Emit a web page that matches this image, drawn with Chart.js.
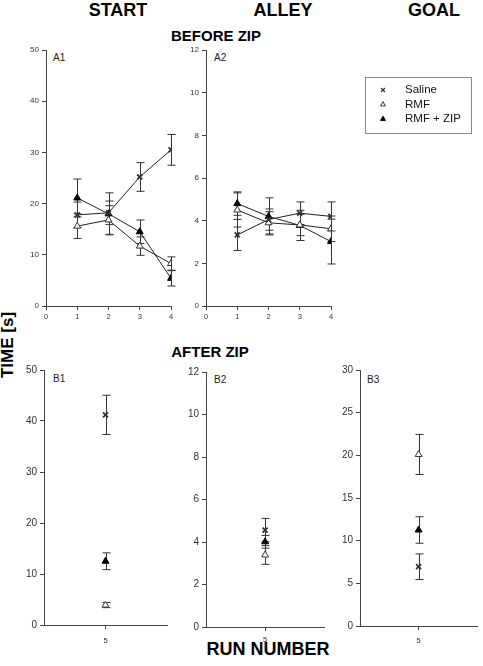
<!DOCTYPE html>
<html>
<head>
<meta charset="utf-8">
<script src="https://cdn.jsdelivr.net/npm/chart.js@4.4.1/dist/chart.umd.min.js"></script>
<style>
body { margin: 0; width: 483px; height: 666px; background: #fff; position: relative; overflow: hidden;
       font-family: "Liberation Sans", Arial, sans-serif; }
.t { position: absolute; font-weight: bold; color: #000; white-space: nowrap; transform: translate(-50%, -50%); }
.lab { position: absolute; font-size: 10px; color: #222; transform: translateY(-50%); }
canvas { position: absolute; }
</style>
</head>
<body>
<div class="t" style="left:118px;top:10px;font-size:18px">START</div>
<div class="t" style="left:283px;top:10px;font-size:18px">ALLEY</div>
<div class="t" style="left:434px;top:10px;font-size:18px">GOAL</div>
<div class="t" style="left:216px;top:35px;font-size:15px">BEFORE ZIP</div>
<div class="t" style="left:210px;top:351px;font-size:15px">AFTER ZIP</div>
<div class="t" style="left:8px;top:345px;font-size:17px;transform:translate(-50%,-50%) rotate(-90deg)">TIME [s]</div>
<div class="t" style="left:268px;top:649px;font-size:18px">RUN NUMBER</div>

<div class="lab" style="left:53px;top:57px">A1</div>
<div class="lab" style="left:214px;top:57px">A2</div>
<div class="lab" style="left:53px;top:378px">B1</div>
<div class="lab" style="left:214px;top:379px">B2</div>
<div class="lab" style="left:367px;top:379px">B3</div>

<canvas id="a1" width="180" height="290" style="left:0;top:40px"></canvas>
<canvas id="a2" width="323" height="290" style="left:160px;top:40px"></canvas>
<canvas id="b1" width="180" height="290" style="left:0;top:360px"></canvas>
<canvas id="b2" width="170" height="290" style="left:160px;top:360px"></canvas>
<canvas id="b3" width="169" height="290" style="left:314px;top:360px"></canvas>

<script>
const groups = ['Saline', 'RMF', 'RMF + ZIP'];
const runsBefore = [1, 2, 3, 4];
const runsAfter = [5];

// before ZIP, start box
const startSaline = [17.8, 18.2, 25.2, 30.5];
const startSalineErr = [2.5, 2.3, 2.8, 3.0];
const startRmf = [15.6, 16.8, 11.7, 8.3];
const startRmfErr = [2.4, 2.8, 1.8, 1.3];
const startZip = [21.1, 18.0, 14.5, 5.4];
const startZipErr = [3.7, 4.1, 2.3, 1.5];

// before ZIP, alley
const alleySaline = [3.33, 4.05, 4.35, 4.2];
const alleySalineErr = [0.73, 0.5, 0.53, 0.68];
const alleyRmf = [4.5, 3.9, 3.8, 3.62];
const alleyRmfErr = [0.8, 0.52, 0.5, 0.6];
const alleyZip = [4.8, 4.2, 3.78, 3.02];
const alleyZipErr = [0.55, 0.87, 0.71, 1.05];

// after ZIP (run 5): start, alley, goal
const afterSaline = [41.2, 4.56, 6.95];
const afterSalineErr = [3.85, 0.55, 1.5];
const afterRmf = [3.9, 3.39, 20.1];
const afterRmfErr = [0.5, 0.44, 2.35];
const afterZip = [12.5, 4.01, 11.25];
const afterZipErr = [1.65, 0.3, 1.55];

const axisColor = '#444';

const errorBars = {
    id: 'errorBars',
    beforeDatasetsDraw(chart) {
        const ctx = chart.ctx;
        const xs = chart.scales.x, ys = chart.scales.y;
        ctx.save();
        ctx.strokeStyle = '#333';
        ctx.lineWidth = 1;
        chart.data.datasets.forEach((ds) => {
            ds.data.forEach((p, i) => {
                const e = ds.errors[i];
                const x = Math.round(xs.getPixelForValue(p.x)) + 0.5;
                const top = ys.getPixelForValue(p.y + e);
                const bot = ys.getPixelForValue(p.y - e);
                ctx.beginPath();
                ctx.moveTo(x, top); ctx.lineTo(x, bot);
                ctx.moveTo(x - 4, top); ctx.lineTo(x + 4, top);
                ctx.moveTo(x - 4, bot); ctx.lineTo(x + 4, bot);
                ctx.stroke();
            });
        });
        ctx.restore();
    }
};

const styles = [
    { pointStyle: 'crossRot', pointRadius: 3.5, pointBorderWidth: 1.8, pointBorderColor: '#333', pointBackgroundColor: '#333' },
    { pointStyle: 'triangle', pointRadius: 4, pointBorderWidth: 1, pointBorderColor: '#333', pointBackgroundColor: '#fff' },
    { pointStyle: 'triangle', pointRadius: 4, pointBorderWidth: 1, pointBorderColor: '#000', pointBackgroundColor: '#000' }
];

const legendBox = {
    id: 'legendBox',
    afterDraw(chart) {
        const ctx = chart.ctx;
        ctx.save();
        ctx.strokeStyle = '#888';
        ctx.lineWidth = 1;
        ctx.strokeRect(205.5, 37.5, 106, 56);
        const rows = [50, 64.5, 79];
        ctx.font = '11.5px "Liberation Sans", Arial, sans-serif';
        ctx.textBaseline = 'middle';
        groups.forEach((g, i) => {
            const s = styles[i];
            ctx.fillStyle = s.pointBackgroundColor;
            ctx.strokeStyle = s.pointBorderColor;
            ctx.lineWidth = i === 0 ? 1.3 : 1;
            Chart.helpers.drawPoint(ctx, { pointStyle: s.pointStyle, radius: 2.8, rotation: 0, borderWidth: ctx.lineWidth }, 223, rows[i]);
            ctx.fillStyle = '#111';
            ctx.fillText(g, 245, rows[i]);
        });
        ctx.restore();
    }
};

function makeSet(i, xs, ys, errs, line) {
    return Object.assign({
        label: groups[i],
        data: xs.map((x, k) => ({ x: x, y: ys[k] })),
        errors: errs,
        showLine: line,
        borderColor: '#222',
        borderWidth: 1,
        fill: false
    }, styles[i]);
}

function panel(id, area, xMin, xMax, xTicks, yMax, yStep, sets, yFont, xFont, xPad, extra) {
    new Chart(document.getElementById(id), {
        type: 'scatter',
        data: { datasets: sets },
        options: {
            responsive: false,
            animation: false,
            layout: { padding: { left: 0, top: area.top, right: area.right, bottom: 0 } },
            plugins: { legend: { display: false }, tooltip: { enabled: false } },
            scales: {
                x: {
                    type: 'linear', min: xMin, max: xMax,
                    afterBuildTicks: (s) => { s.ticks = xTicks.map((v) => ({ value: v })); },
                    afterFit: (s) => { s.height = area.bottom; },
                    grid: { drawOnChartArea: false, drawTicks: true, tickLength: 4, color: axisColor },
                    border: { color: axisColor },
                    ticks: { autoSkip: false, maxRotation: 0, padding: xPad, color: '#333', font: { size: xFont, family: '"Liberation Sans", Arial' } }
                },
                y: {
                    min: 0, max: yMax,
                    afterFit: (s) => { s.width = area.left; },
                    grid: { drawOnChartArea: false, drawTicks: true, tickLength: 4, color: axisColor },
                    border: { color: axisColor },
                    ticks: { stepSize: yStep, padding: 3, color: '#333', font: { size: yFont, family: '"Liberation Sans", Arial' } }
                }
            }
        },
        plugins: [errorBars].concat(extra || [])
    });
}

panel('a1', { left: 46, top: 10, right: 9, bottom: 24 }, 0, 4, [0, 1, 2, 3, 4], 50, 10, [
    makeSet(0, runsBefore, startSaline, startSalineErr, true),
    makeSet(1, runsBefore, startRmf, startRmfErr, true),
    makeSet(2, runsBefore, startZip, startZipErr, true)
], 8, 7.5, 2);

panel('a2', { left: 46, top: 10, right: 152, bottom: 24 }, 0, 4, [0, 1, 2, 3, 4], 12, 2, [
    makeSet(0, runsBefore, alleySaline, alleySalineErr, true),
    makeSet(1, runsBefore, alleyRmf, alleyRmfErr, true),
    makeSet(2, runsBefore, alleyZip, alleyZipErr, true)
], 8, 7.5, 2, [legendBox]);

[['b1', 0, { left: 44, top: 10, right: 13, bottom: 25 }, 50, 10, 7],
 ['b2', 1, { left: 46, top: 12, right: 3, bottom: 23 }, 12, 2, 4],
 ['b3', 2, { left: 46, top: 10, right: 1, bottom: 24 }, 30, 5, 6]].forEach(([id, k, area, yMax, yStep, pad]) => {
    panel(id, area, 4, 6, runsAfter, yMax, yStep, [
        makeSet(0, runsAfter, [afterSaline[k]], [afterSalineErr[k]], false),
        makeSet(1, runsAfter, [afterRmf[k]], [afterRmfErr[k]], false),
        makeSet(2, runsAfter, [afterZip[k]], [afterZipErr[k]], false)
    ], 10, 7.5, pad);
});
</script>
</body>
</html>
